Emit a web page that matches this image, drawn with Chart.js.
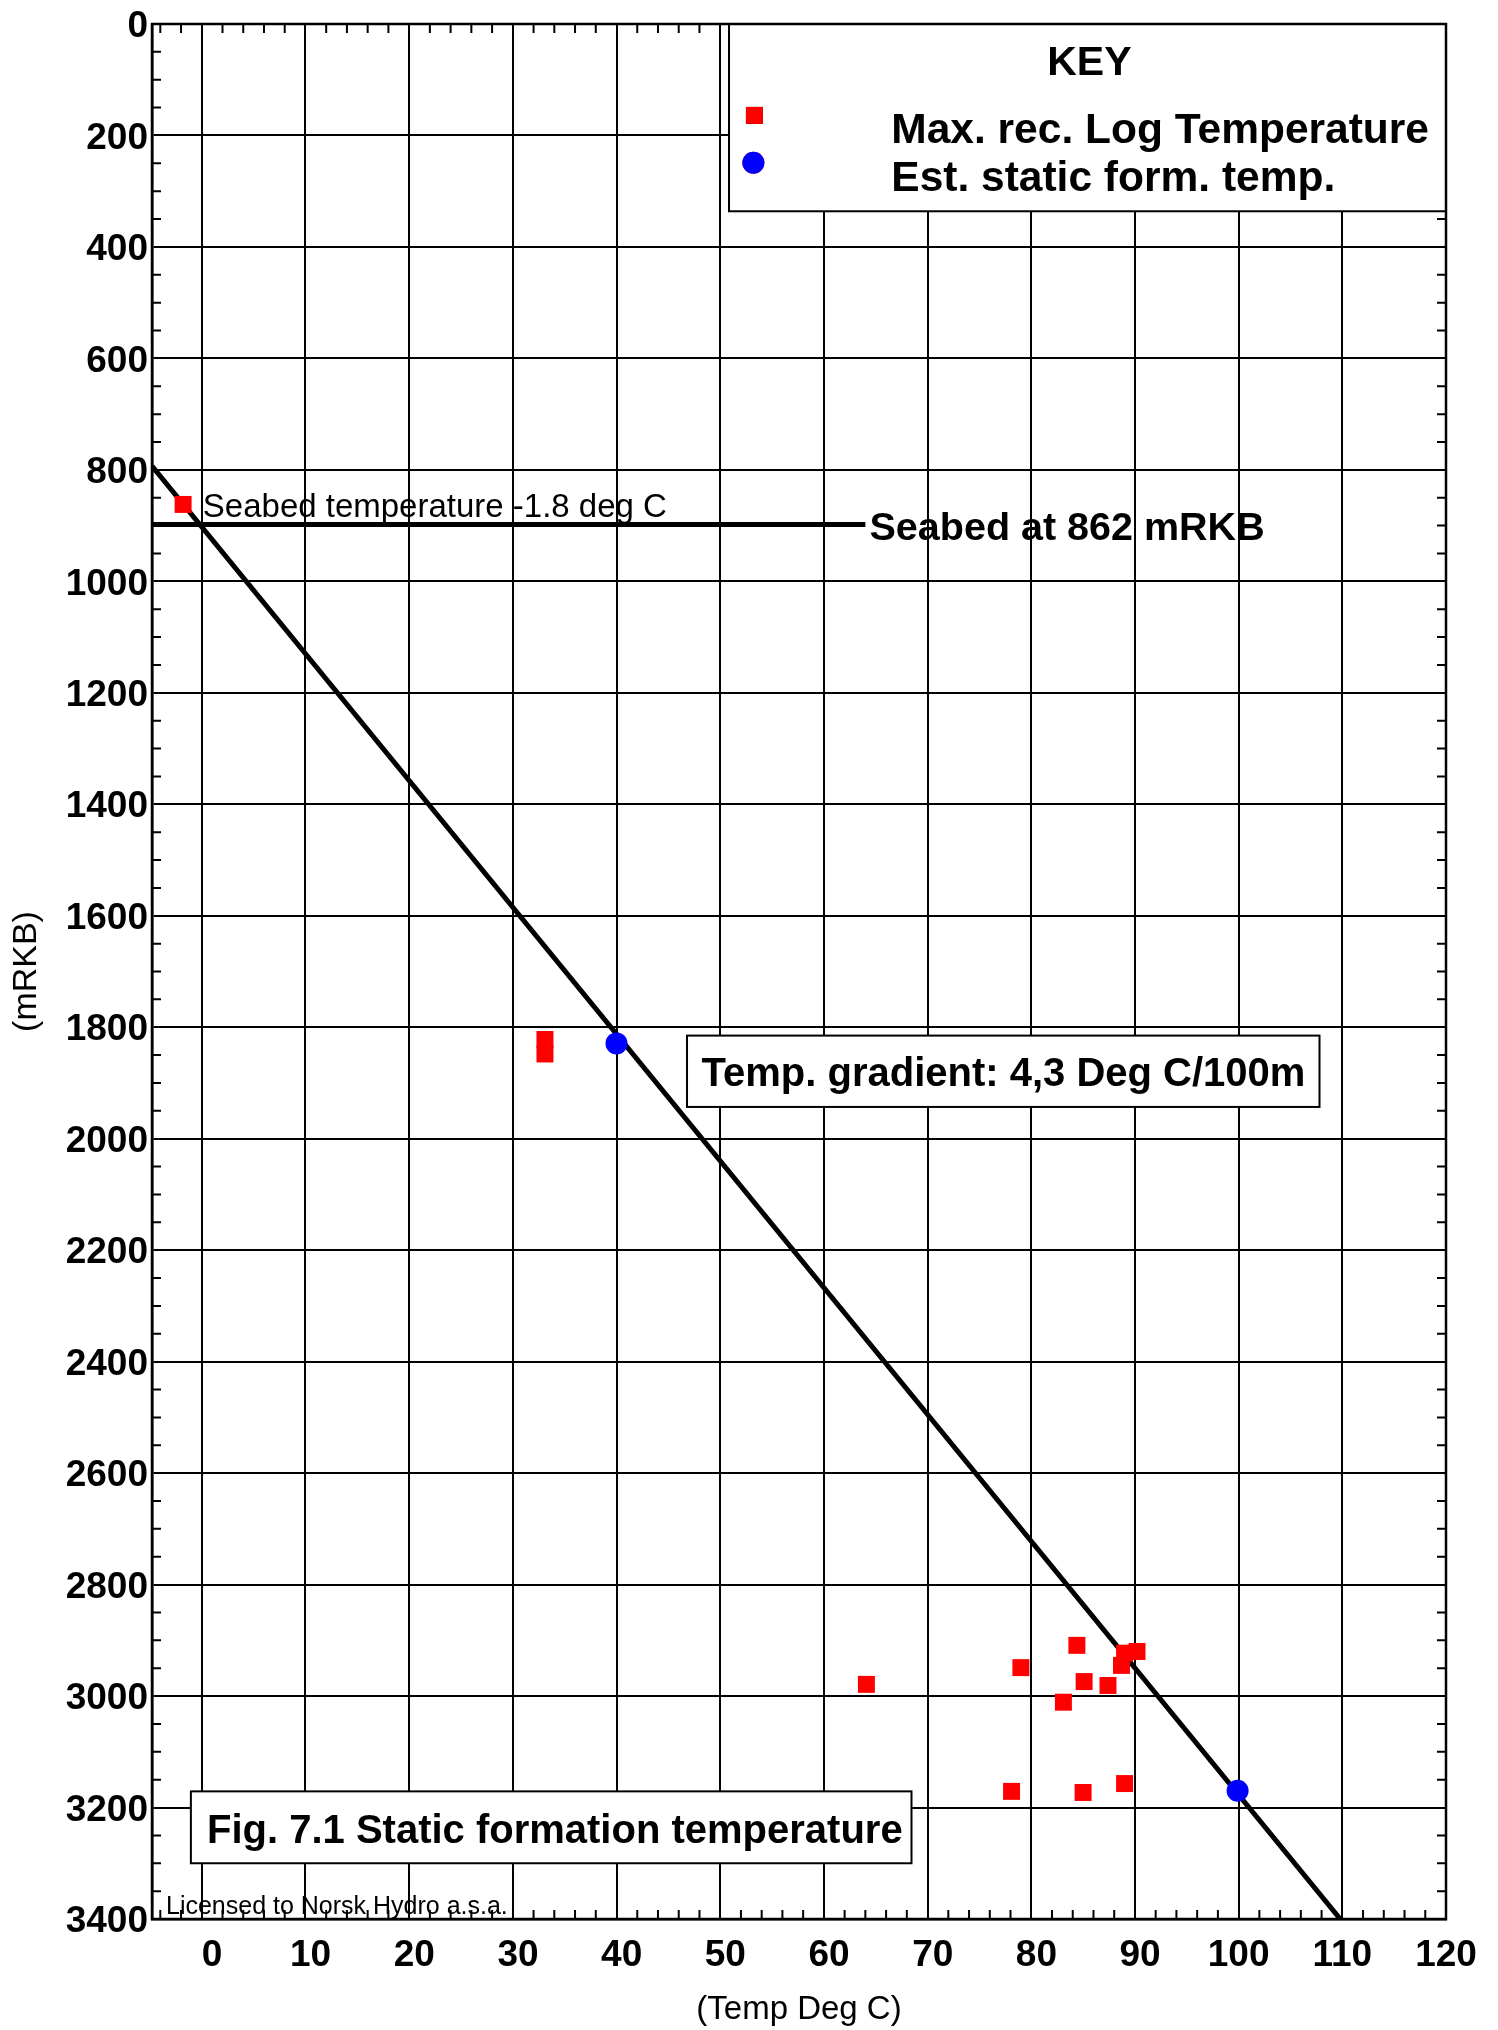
<!DOCTYPE html>
<html>
<head>
<meta charset="utf-8">
<title>Static formation temperature</title>
<script src="https://cdn.jsdelivr.net/npm/chart.js@4/dist/chart.umd.min.js"></script>
<style>
  html, body { margin: 0; padding: 0; background: #fff; }
  #wrap { width: 1498px; height: 2030px; position: relative; }
</style>
</head>
<body>
<div id="wrap"><canvas id="canvas"></canvas></div>
<script>
var FONT = "'Liberation Sans', Arial, Helvetica, sans-serif";

// axis ticks
var xTicks = [0, 10, 20, 30, 40, 50, 60, 70, 80, 90, 100, 110, 120];
var yTicks = [0, 200, 400, 600, 800, 1000, 1200, 1400, 1600, 1800, 2000,
              2200, 2400, 2600, 2800, 3000, 3200, 3400];

// Max. rec. Log Temperature (deg C / mRKB)
var logTemp  = [-1.8, 33.1, 33.1, 64.1, 79.0, 84.4, 85.1, 87.4, 83.1, 88.7, 89.0, 90.2, 78.1, 85.0, 89.0];
var logDepth = [862, 1822, 1848, 2979, 2949, 2909, 2974, 2981, 3011, 2945, 2923, 2920, 3171, 3173, 3157];

// Est. static form. temp.
var staticTemp  = [40.0, 99.9];
var staticDepth = [1829, 3170];

// temperature gradient line
var gradTemp  = [-4.8, 109.8];
var gradDepth = [793, 3400];

// seabed line
var seabedTemp  = [-4.8, 64.0];
var seabedDepth = [898, 898];

function toPoints(xs, ys) {
    return xs.map(function (x, i) { return {x: x, y: ys[i]}; });
}

// text boxes / notes, placed in data units
var decor = {
    id: 'decor',
    beforeDatasetsDraw: function (chart) {
        var ctx = chart.ctx, a = chart.chartArea;
        var sx = chart.scales.x, sy = chart.scales.y;
        ctx.save();
        ctx.strokeStyle = '#000';
        ctx.lineWidth = 2;
        ctx.beginPath();
        // minor ticks, pointing inwards
        for (var d = 50; d < 3400; d += 50) {
            if (d % 200 === 0) continue;
            var py = sy.getPixelForValue(d);
            ctx.moveTo(a.left, py); ctx.lineTo(a.left + 9, py);
            ctx.moveTo(a.right, py); ctx.lineTo(a.right - 9, py);
        }
        for (var t = -4; t < 120; t += 2) {
            if (t % 10 === 0) continue;
            var px = sx.getPixelForValue(t);
            ctx.moveTo(px, a.top); ctx.lineTo(px, a.top + 9);
            ctx.moveTo(px, a.bottom); ctx.lineTo(px, a.bottom - 9);
        }
        ctx.stroke();

        function box(x1, y1, x2, y2) {
            var l = sx.getPixelForValue(x1), r = sx.getPixelForValue(x2);
            var tp = sy.getPixelForValue(y1), b = sy.getPixelForValue(y2);
            ctx.fillStyle = '#fff';
            ctx.fillRect(l, tp, r - l, b - tp);
            ctx.strokeRect(l, tp, r - l, b - tp);
        }
        box(50.85, 0, 120, 336);        // key
        box(46.8, 1815, 107.8, 1943);   // gradient
        box(-1.05, 3171, 68.45, 3300);  // figure title
        ctx.restore();
    },
    afterDatasetsDraw: function (chart) {
        var ctx = chart.ctx, a = chart.chartArea;
        var sx = chart.scales.x, sy = chart.scales.y;
        ctx.save();
        ctx.strokeStyle = '#000';
        ctx.lineWidth = 2.5;
        ctx.strokeRect(a.left, a.top, a.right - a.left, a.bottom - a.top);

        function txt(s, x, y, size, bold, align, base) {
            ctx.font = (bold ? 'bold ' : '') + size + 'px ' + FONT;
            ctx.fillStyle = '#000';
            ctx.textAlign = align || 'left';
            ctx.textBaseline = base || 'alphabetic';
            ctx.fillText(s, sx.getPixelForValue(x), sy.getPixelForValue(y));
        }
        // key
        var ds = chart.data.datasets;
        txt('KEY', 85.6, 92, 41, true, 'center');
        Chart.helpers.drawPoint(ctx, {pointStyle: 'rect', radius: 12, borderWidth: 0, rotation: 0},
            sx.getPixelForValue(53.3), sy.getPixelForValue(164));
        ctx.fillStyle = ds[0].pointBackgroundColor; ctx.fill();
        Chart.helpers.drawPoint(ctx, {pointStyle: 'circle', radius: 11, borderWidth: 0, rotation: 0},
            sx.getPixelForValue(53.2), sy.getPixelForValue(249));
        ctx.fillStyle = ds[1].pointBackgroundColor; ctx.fill();
        txt(ds[0].label, 66.5, 214, 42.5, true);
        txt(ds[1].label, 66.5, 300, 42.5, true);

        txt('Seabed temperature -1.8 deg C', 0.1, 885, 33, false);
        txt('Seabed at 862 mRKB', 64.4, 906, 39.5, true, 'left', 'middle');
        txt('Temp. gradient: 4,3 Deg C/100m', 48.2, 1886, 40, true, 'left', 'middle');
        txt('Fig. 7.1 Static formation temperature', 0.5, 3264, 40, true);
        txt('Licensed to Norsk Hydro a.s.a.', -3.45, 3391, 25, false);
        ctx.restore();
    }
};

var ctx = document.getElementById('canvas');

var myChart = new Chart(ctx, {
    type: 'scatter',
    data: {
        datasets: [
            {
                label: 'Max. rec. Log Temperature',
                data: toPoints(logTemp, logDepth),
                pointStyle: 'rect',
                pointRadius: 12,
                pointBorderWidth: 0,
                pointBackgroundColor: '#ff0000',
                backgroundColor: '#ff0000'
            },
            {
                label: 'Est. static form. temp.',
                data: toPoints(staticTemp, staticDepth),
                pointStyle: 'circle',
                pointRadius: 11,
                pointBorderWidth: 0,
                pointBackgroundColor: '#0000ff',
                backgroundColor: '#0000ff'
            },
            {
                label: 'gradient',
                data: toPoints(gradTemp, gradDepth),
                showLine: true,
                borderColor: '#000',
                borderWidth: 5,
                pointRadius: 0
            },
            {
                label: 'seabed',
                data: toPoints(seabedTemp, seabedDepth),
                showLine: true,
                borderColor: '#000',
                borderWidth: 5,
                pointRadius: 0
            }
        ]
    },
    options: {
        responsive: true,
        maintainAspectRatio: false,
        animation: false,
        devicePixelRatio: 1,
        layout: {padding: {top: 24, right: 52, left: 0, bottom: 0}},
        plugins: {legend: {display: false}, tooltip: {enabled: false}},
        scales: {
            x: {
                type: 'linear',
                position: 'bottom',
                min: -4.8,
                max: 120,
                afterBuildTicks: function (s) { s.ticks = xTicks.map(function (v) { return {value: v}; }); },
                afterFit: function (s) { s.height = 111; },
                grid: {color: '#000', lineWidth: 2, drawTicks: false},
                border: {color: '#000', width: 2.5},
                ticks: {
                    color: '#000',
                    font: {family: FONT, size: 37, weight: 'bold', lineHeight: 1},
                    padding: 18,
                    maxRotation: 0,
                    autoSkip: false,
                    callback: function (v) { return (v < 10 ? '  ' : v < 100 ? ' ' : '') + v; }
                },
                title: {
                    display: true,
                    text: '(Temp Deg C)',
                    color: '#000',
                    font: {family: FONT, size: 33, lineHeight: 1},
                    padding: {top: 0, bottom: 4}
                }
            },
            y: {
                type: 'linear',
                position: 'left',
                reverse: true,
                min: 0,
                max: 3400,
                afterBuildTicks: function (s) { s.ticks = yTicks.map(function (v) { return {value: v}; }); },
                afterFit: function (s) { s.width = 152; },
                grid: {color: '#000', lineWidth: 2, drawTicks: false},
                border: {color: '#000', width: 2.5},
                ticks: {
                    color: '#000',
                    font: {family: FONT, size: 37, weight: 'bold', lineHeight: 1},
                    padding: 4,
                    labelOffset: 3,
                    autoSkip: false,
                    callback: function (v) { return String(v); }
                },
                title: {
                    display: true,
                    text: '(mRKB)',
                    color: '#000',
                    font: {family: FONT, size: 34, lineHeight: 1},
                    padding: {top: 10, bottom: 0}
                }
            }
        }
    },
    plugins: [decor]
});
</script>
</body>
</html>
